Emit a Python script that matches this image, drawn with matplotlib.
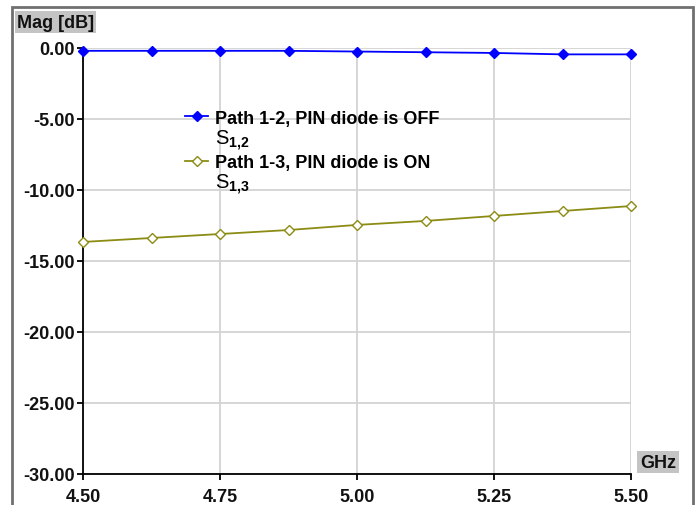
import numpy as np
import matplotlib
matplotlib.use('Agg')
import matplotlib.pyplot as plt
from matplotlib.lines import Line2D
from matplotlib.patches import Rectangle

plt.rcParams['font.family'] = ['Liberation Sans', 'DejaVu Sans']
plt.rcParams['mathtext.fontset'] = 'custom'
plt.rcParams['mathtext.rm'] = 'Liberation Sans'
plt.rcParams['mathtext.bf'] = 'Liberation Sans:bold'

# frequency points (GHz)
freq = [4.5, 4.625, 4.75, 4.875, 5.0, 5.125, 5.25, 5.375, 5.5]
# S12 magnitude, PIN diode OFF
s12 = [-0.2, -0.2, -0.2, -0.2, -0.25, -0.3, -0.35, -0.45, -0.45]
# S13 magnitude, PIN diode ON
s13 = [-13.66, -13.38, -13.1, -12.82, -12.46, -12.18, -11.83, -11.48, -11.13]

xticks = [4.5, 4.75, 5.0, 5.25, 5.5]
yticks = [0, -5, -10, -15, -20, -25, -30]

fig = plt.figure(figsize=(7, 5.06), dpi=100)
ax = fig.add_axes([0.1186, 0.0613, 0.7829, 0.8419])

l1, = ax.plot(freq, s12, color='#0000ff', lw=1.3, marker='D', ms=5.5,
              mfc='#0000ff', mec='#0000ff', clip_on=False, zorder=3)
l2, = ax.plot(freq, s13, color='#8c8c14', lw=1.3, marker='D', ms=5.5,
              mfc='white', mec='#8c8c14', clip_on=False, zorder=3)

ax.set_xlim(4.5, 5.5)
ax.set_ylim(-30, 0)
ax.set_xticks(xticks)
ax.set_xticklabels(['%.2f' % v for v in xticks])
ax.set_yticks(yticks)
ax.set_yticklabels(['%.2f' % v for v in yticks])
ax.grid(True, color='#d3d3d3', lw=1.3)
ax.set_axisbelow(True)
for s in ['top', 'right']:
    ax.spines[s].set_visible(False)
for s in ['left', 'bottom']:
    ax.spines[s].set_linewidth(1.3)
ax.tick_params(axis='y', direction='out', length=4, width=1.3, pad=2,
               labelsize=13)
ax.tick_params(axis='x', direction='out', length=4, width=1.3, pad=6,
               labelsize=13)
for lab in ax.get_xticklabels() + ax.get_yticklabels():
    lab.set_fontweight('bold')
    lab.set_color('#111111')

blank = Line2D([], [], linestyle='none')
leg = ax.legend([l1, blank, l2, blank],
                ['Path 1-2, PIN diode is OFF', r'$\mathrm{S}_{\mathbf{1{,}2}}$',
                 'Path 1-3, PIN diode is ON', r'$\mathrm{S}_{\mathbf{1{,}3}}$'],
                loc='upper left', bbox_to_anchor=(0.186, 0.855), frameon=False,
                borderpad=0, borderaxespad=0, handlelength=1.3,
                handletextpad=0.35, labelspacing=0.08,
                prop={'size': 13, 'weight': 'bold'})
for t in leg.get_texts()[1::2]:
    t.set_fontsize(14.5)

# outer frame
fig.patches.append(Rectangle((12 / 700, -0.05), 681 / 700, 1 - 8 / 506 + 0.05,
                             transform=fig.transFigure, fill=False,
                             edgecolor='#707070', lw=2))
fig.text(17 / 700, 1 - 23 / 506, 'Mag [dB]', fontsize=13, fontweight='bold',
         va='center', ha='left', color='#111111',
         bbox=dict(boxstyle='square,pad=0.12', fc='#c4c4c4', ec='none'))
fig.text(658 / 700, 1 - 463 / 506, 'GHz', fontsize=13, fontweight='bold',
         va='center', ha='center', color='#111111',
         bbox=dict(boxstyle='square,pad=0.15', fc='#c4c4c4', ec='none'))

fig.savefig('out.png', dpi=100)
